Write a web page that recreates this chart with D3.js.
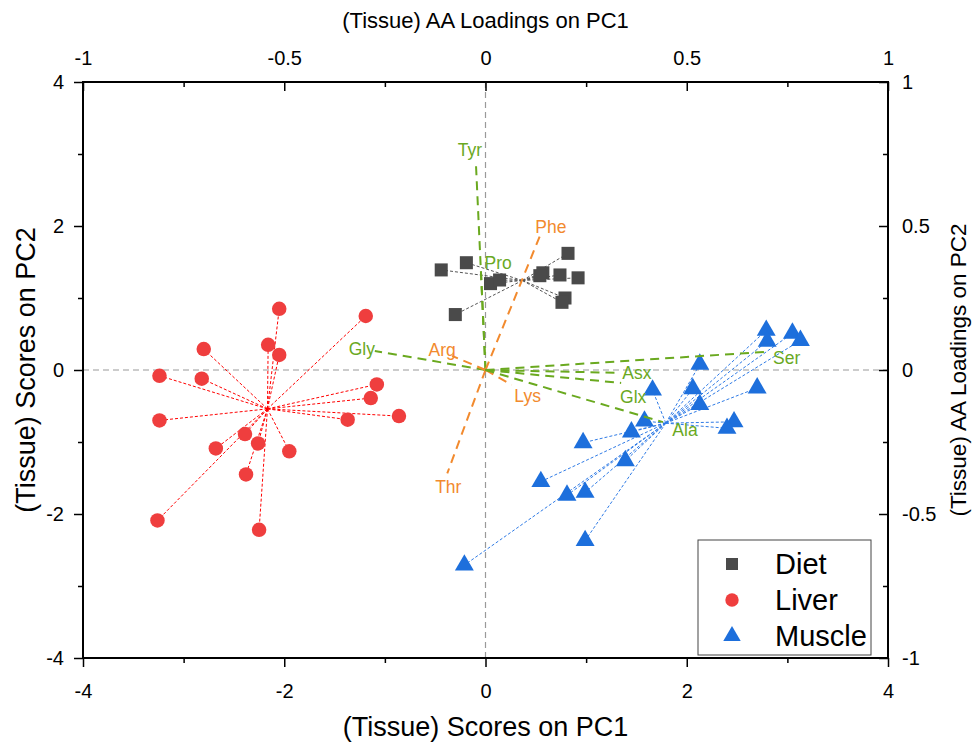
<!DOCTYPE html>
<html>
<head>
<meta charset="utf-8">
<script src="https://cdn.jsdelivr.net/npm/d3@7"></script>
<style>
  html, body { margin: 0; padding: 0; background: #fff; }
  svg { display: block; font-family: "Liberation Sans", Arial, sans-serif; }
</style>
</head>
<body>
<svg id="chart" width="975" height="744"></svg>
<script>
// ---------- data ----------
const dietX = [-0.44, -0.19, -0.30, 0.05, 0.14, 0.82, 0.57, 0.54, 0.74, 0.92, 0.79, 0.76];
const dietY = [1.39, 1.49, 0.77, 1.20, 1.25, 1.62, 1.35, 1.31, 1.32, 1.28, 1.00, 0.94];

const liverX = [-2.05, -1.19, -2.80, -2.16, -2.05, -3.24, -2.82, -1.08, -1.14, -3.24,
                -1.37, -0.86, -2.39, -2.26, -2.68, -1.95, -2.38, -3.26, -2.25];
const liverY = [0.85, 0.75, 0.29, 0.35, 0.21, -0.08, -0.12, -0.20, -0.39, -0.70,
                -0.69, -0.64, -0.89, -1.02, -1.09, -1.13, -1.45, -2.09, -2.22];

const muscleX = [2.79, 2.80, 3.05, 3.13, 2.13, 2.70, 1.66, 2.06, 2.13, 1.58,
                 2.47, 2.40, 1.45, 0.97, 1.39, 0.55, 0.81, 0.99, 0.99, -0.21];
const muscleY = [0.55, 0.40, 0.51, 0.41, 0.08, -0.25, -0.28, -0.26, -0.48, -0.71,
                 -0.72, -0.81, -0.86, -1.01, -1.26, -1.55, -1.74, -1.70, -2.37, -2.71];

const loadingNames = ["Tyr", "Pro", "Phe", "Gly", "Arg", "Lys", "Thr", "Asx", "Glx", "Ala", "Ser"];
const loadingX     = [-0.024, -0.011, 0.135, -0.275, -0.083, 0.065, -0.095, 0.334, 0.337, 0.441, 0.696];
const loadingY     = [0.723, 0.333, 0.465, 0.066, 0.049, -0.052, -0.359, -0.010, -0.045, -0.181, 0.063];
const loadingGroup = ["ess", "ess", "non", "ess", "non", "non", "non", "ess", "ess", "ess", "ess"];

const groupNames = ["Diet", "Liver", "Muscle"];

const xTicks = [-4, -2, 0, 2, 4];
const xTickLabels = ["-4", "-2", "0", "2", "4"];
const xMinor = [-3, -1, 1, 3];
const yTicks = [-4, -2, 0, 2, 4];
const yTickLabels = ["-4", "-2", "0", "2", "4"];
const yMinor = [-3, -1, 1, 3];
const lTicks = [-1, -0.5, 0, 0.5, 1];
const lTickLabels = ["-1", "-0.5", "0", "0.5", "1"];
const lMinor = [-0.75, -0.25, 0.25, 0.75];

// ---------- layout / style ----------
const L = 83, R = 888, T = 82, B = 658;
const colors = { Diet: "#4a4a4a", Liver: "#ef3e3e", Muscle: "#1d6fdc" };
const lineColors = { Diet: "#555555", Liver: "#ff0000", Muscle: "#2f7be6" };
const loadColors = { ess: "#6aa91f", non: "#f28a2e" };
const labelNudge = {
  Tyr: [-6, -12], Pro: [17, -11], Phe: [11, -9], Gly: [-13, -2], Arg: [-10, -6],
  Lys: [16, 11], Thr: [1, 14], Asx: [17, 0], Glx: [12, 14], Ala: [22, 8], Ser: [21, 6]
};

const svg = d3.select("#chart");
const x = d3.scaleLinear().domain([-4, 4]).range([L, R]);
const y = d3.scaleLinear().domain([-4, 4]).range([B, T]);
const xl = d3.scaleLinear().domain([-1, 1]).range([L, R]);
const yl = d3.scaleLinear().domain([-1, 1]).range([B, T]);

// zero reference lines
const gRef = svg.append("g").attr("stroke", "#9a9a9a").attr("stroke-width", 1.2).attr("stroke-dasharray", "6,4");
gRef.append("line").attr("x1", x(0)).attr("x2", x(0)).attr("y1", T).attr("y2", B);
gRef.append("line").attr("x1", L).attr("x2", R).attr("y1", y(0)).attr("y2", y(0));

// groups
const groups = [
  { name: "Diet", xs: dietX, ys: dietY, shape: d3.symbolSquare, size: 170 },
  { name: "Liver", xs: liverX, ys: liverY, shape: d3.symbolCircle, size: 165 },
  { name: "Muscle", xs: muscleX, ys: muscleY, shape: d3.symbolTriangle, size: 155 }
];

groups.forEach(g => {
  const pts = g.xs.map((v, i) => [v, g.ys[i]]);
  const cx = d3.mean(g.xs), cy = d3.mean(g.ys);
  svg.append("g").selectAll("line").data(pts).join("line")
    .attr("x1", x(cx)).attr("y1", y(cy))
    .attr("x2", d => x(d[0])).attr("y2", d => y(d[1]))
    .attr("stroke", lineColors[g.name]).attr("stroke-width", 1)
    .attr("stroke-dasharray", "3,2");
});

groups.forEach(g => {
  const pts = g.xs.map((v, i) => [v, g.ys[i]]);
  svg.append("g").selectAll("path").data(pts).join("path")
    .attr("d", d3.symbol().type(g.shape).size(g.size))
    .attr("transform", d => `translate(${x(d[0])},${y(d[1])})`)
    .attr("fill", colors[g.name]);
});

// loading vectors
const loads = loadingNames.map((n, i) => ({ n, lx: loadingX[i], ly: loadingY[i], g: loadingGroup[i] }));
svg.append("g").selectAll("line").data(loads).join("line")
  .attr("x1", xl(0)).attr("y1", yl(0))
  .attr("x2", d => xl(d.lx)).attr("y2", d => yl(d.ly))
  .attr("stroke", d => loadColors[d.g]).attr("stroke-width", 2)
  .attr("stroke-dasharray", "9,6");
svg.append("g").selectAll("text").data(loads).join("text")
  .attr("x", d => xl(d.lx) + labelNudge[d.n][0])
  .attr("y", d => yl(d.ly) + labelNudge[d.n][1])
  .attr("text-anchor", "middle").attr("dominant-baseline", "central")
  .attr("font-size", 17.5).attr("fill", d => loadColors[d.g])
  .text(d => d.n);

// axes
function styleAxis(g) {
  g.select(".domain").remove();
  g.selectAll("line").attr("stroke", "#000").attr("stroke-width", 1.5);
  g.selectAll("text").attr("font-size", 20).attr("fill", "#000")
    .attr("font-family", "Liberation Sans, Arial, sans-serif");
}
svg.append("g").attr("transform", `translate(0,${B})`)
  .call(d3.axisBottom(x).tickValues(xTicks).tickSize(9).tickPadding(17)
        .tickFormat((d, i) => xTickLabels[i])).call(styleAxis);
svg.append("g").attr("transform", `translate(0,${B})`)
  .call(d3.axisBottom(x).tickValues(xMinor).tickSize(5).tickFormat("")).call(styleAxis);
svg.append("g").attr("transform", `translate(${L},0)`)
  .call(d3.axisLeft(y).tickValues(yTicks).tickSize(9).tickPadding(10)
        .tickFormat((d, i) => yTickLabels[i])).call(styleAxis);
svg.append("g").attr("transform", `translate(${L},0)`)
  .call(d3.axisLeft(y).tickValues(yMinor).tickSize(5).tickFormat("")).call(styleAxis);
svg.append("g").attr("transform", `translate(0,${T})`)
  .call(d3.axisTop(xl).tickValues(lTicks).tickSize(-9).tickPadding(17)
        .tickFormat((d, i) => lTickLabels[i])).call(styleAxis);
svg.append("g").attr("transform", `translate(0,${T})`)
  .call(d3.axisTop(xl).tickValues(lMinor).tickSize(-5).tickFormat("")).call(styleAxis);
svg.append("g").attr("transform", `translate(${R},0)`)
  .call(d3.axisRight(yl).tickValues(lTicks).tickSize(-9).tickPadding(14)
        .tickFormat((d, i) => lTickLabels[i])).call(styleAxis);
svg.append("g").attr("transform", `translate(${R},0)`)
  .call(d3.axisRight(yl).tickValues(lMinor).tickSize(-5).tickFormat("")).call(styleAxis);

// frame
svg.append("rect").attr("x", L).attr("y", T).attr("width", R - L).attr("height", B - T)
  .attr("fill", "none").attr("stroke", "#000").attr("stroke-width", 2);

// axis titles
svg.append("text").attr("x", (L + R) / 2).attr("y", 727).attr("text-anchor", "middle")
  .attr("dominant-baseline", "central").attr("font-size", 27).text("(Tissue) Scores on PC1");
svg.append("text").attr("x", (L + R) / 2).attr("y", 20).attr("text-anchor", "middle")
  .attr("dominant-baseline", "central").attr("font-size", 22).text("(Tissue) AA Loadings on PC1");
svg.append("text").attr("transform", `translate(26,${(T + B) / 2}) rotate(-90)`)
  .attr("text-anchor", "middle").attr("dominant-baseline", "central")
  .attr("font-size", 27).text("(Tissue) Scores on PC2");
svg.append("text").attr("transform", `translate(958,${(T + B) / 2}) rotate(-90)`)
  .attr("text-anchor", "middle").attr("dominant-baseline", "central")
  .attr("font-size", 22.5).text("(Tissue) AA Loadings on PC2");

// legend
const lg = svg.append("g");
lg.append("rect").attr("x", 698).attr("y", 540).attr("width", 173).attr("height", 115)
  .attr("fill", "#fff").attr("stroke", "#444").attr("stroke-width", 1);
groups.forEach((g, i) => {
  const cy = 564 + i * 36;
  lg.append("path").attr("d", d3.symbol().type(g.shape).size(g.size * 0.85))
    .attr("transform", `translate(732,${cy})`).attr("fill", colors[g.name]);
  lg.append("text").attr("x", 775).attr("y", cy).attr("dominant-baseline", "central")
    .attr("font-size", 29).attr("fill", "#000").text(groupNames[i]);
});
</script>
</body>
</html>
